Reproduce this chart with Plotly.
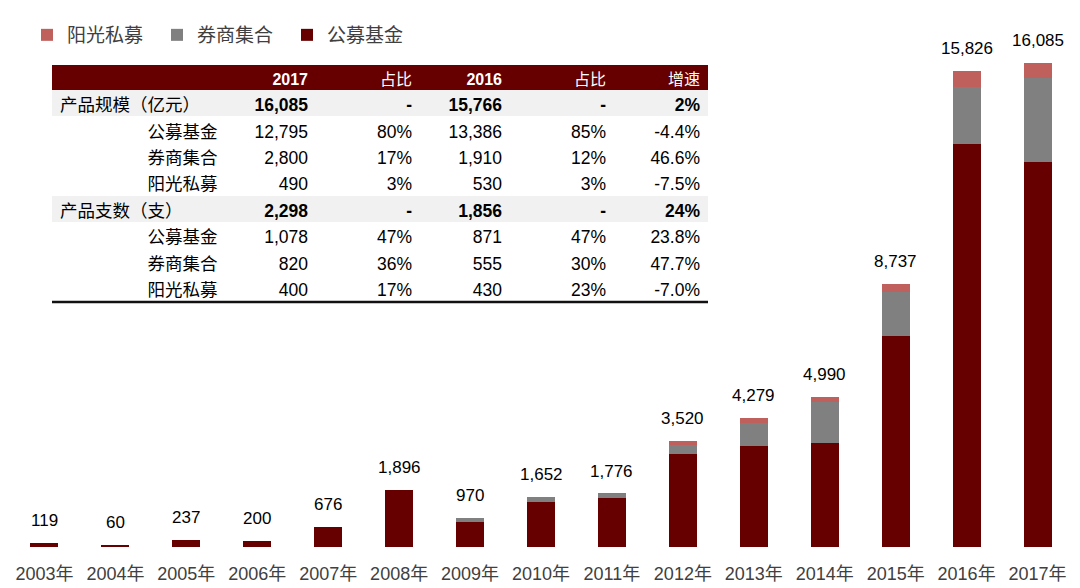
import plotly.graph_objects as go

# ---------------- data ----------------
years = ["2003年", "2004年", "2005年", "2006年", "2007年", "2008年", "2009年", "2010年",
         "2011年", "2012年", "2013年", "2014年", "2015年", "2016年", "2017年"]
gongmu = [119, 60, 237, 200, 676, 1896, 818, 1495, 1618, 3101, 3357, 3466, 7012, 13386, 12795]
quanshang = [0, 0, 0, 0, 0, 0, 152, 157, 150, 289, 775, 1363, 1462, 1910, 2800]
yangguang = [0, 0, 0, 0, 0, 0, 0, 0, 8, 130, 147, 161, 263, 530, 490]
totals = [119, 60, 237, 200, 676, 1896, 970, 1652, 1776, 3520, 4279, 4990, 8737, 15826, 16085]

tbl_header = ["", "2017", "占比", "2016", "占比", "增速"]
tbl_label = ["产品规模（亿元）", "公募基金", "券商集合", "阳光私募",
             "产品支数（支）", "公募基金", "券商集合", "阳光私募"]
tbl_is_total = [True, False, False, False, True, False, False, False]
tbl_2017 = ["16,085", "12,795", "2,800", "490", "2,298", "1,078", "820", "400"]
tbl_share17 = ["-", "80%", "17%", "3%", "-", "47%", "36%", "17%"]
tbl_2016 = ["15,766", "13,386", "1,910", "530", "1,856", "871", "555", "430"]
tbl_share16 = ["-", "85%", "12%", "3%", "-", "47%", "30%", "23%"]
tbl_growth = ["2%", "-4.4%", "46.6%", "-7.5%", "24%", "23.8%", "47.7%", "-7.0%"]

# ---------------- styles ----------------
C_DARK = "#660000"
C_GRAY = "#808080"
C_RED = "#C0605D"
FONT = "Liberation Sans, Arial, Noto Sans CJK SC, sans-serif"

OFF = 8                      # page body margin
W, H = 1080 - OFF, 588 - OFF
ML, MR, MT, MB = 1, 7, 2, 41
PW, PH = W - ML - MR, H - MT - MB
YMAX = 17846


def px_x(x):  # screen x -> paper fraction
    return (x - OFF - ML) / PW


def px_y(y):  # screen y -> paper fraction
    return (OFF + H - MB - y) / PH


fig = go.Figure()
fig.add_trace(go.Bar(name="公募基金", x=years, y=gongmu, marker=dict(color=C_DARK, line=dict(width=0))))
fig.add_trace(go.Bar(name="券商集合", x=years, y=quanshang, marker=dict(color=C_GRAY, line=dict(width=0))))
fig.add_trace(go.Bar(name="阳光私募", x=years, y=yangguang, marker=dict(color=C_RED, line=dict(width=0))))

# value labels above stacks
for i, yr in enumerate(years):
    top = gongmu[i] + quanshang[i] + yangguang[i]
    fig.add_annotation(x=yr, y=top, text=f"{totals[i]:,}", showarrow=False,
                       yanchor="bottom", yshift=11,
                       font=dict(family=FONT, size=17, color="#000000"))

# table
indent = "\u3000" * 5
col0 = [v if b else indent + v for v, b in zip(tbl_label, tbl_is_total)]
row_fill = ["#F1F1F1" if b else "#FFFFFF" for b in tbl_is_total]

fig.add_trace(go.Table(
    domain=dict(x=[px_x(52), px_x(708)], y=[px_y(330), px_y(65)]),
    columnwidth=[173, 91, 104, 90, 104, 94],
    header=dict(values=tbl_header, fill_color=C_DARK,
                align=["left", "right", "right", "right", "right", "right"],
                font=dict(family=FONT, size=16, color="#FFFFFF",
                          weight=["normal", "bold", "normal", "bold", "normal", "normal"]),
                height=25, line=dict(width=0, color=C_DARK)),
    cells=dict(values=[col0, tbl_2017, tbl_share17, tbl_2016, tbl_share16, tbl_growth],
               fill_color=[row_fill], align=["left", "right", "right", "right", "right", "right"],
               font=dict(family=FONT, size=17.5, color="#000000"), height=26.4,
               line=dict(width=0, color="#FFFFFF")),
))
# per-cell bold for the total rows (2-D grid, columns x rows)
tbl_idx = len(fig.data) - 1
cell_weights = [["normal"] * len(tbl_label)] + \
               [["bold" if b else "normal" for b in tbl_is_total] for _ in range(5)]
fig._data[tbl_idx]["cells"]["font"]["weight"] = cell_weights

fig.add_shape(type="line", xref="paper", yref="paper", x0=px_x(52), x1=px_x(708),
              y0=px_y(302), y1=px_y(302), line=dict(color="#111111", width=2.5))

fig.update_layout(
    width=W, height=H,
    margin=dict(l=ML, r=MR, t=MT, b=MB),
    barmode="stack", bargap=0.605,
    paper_bgcolor="#FFFFFF", plot_bgcolor="#FFFFFF",
    font=dict(family=FONT, size=17, color="#404040"),
    showlegend=True,
    legend=dict(orientation="h", traceorder="reversed", x=px_x(27), xanchor="left",
                y=px_y(35), yanchor="middle", entrywidth=85, entrywidthmode="pixels",
                font=dict(family=FONT, size=19, color="#404040"), bgcolor="rgba(0,0,0,0)"),
    xaxis=dict(type="category", showgrid=False, showline=False, zeroline=False,
               ticks="outside", ticklen=10, tickcolor="rgba(0,0,0,0)",
               tickfont=dict(family=FONT, size=18, color="#404040"), automargin=False),
    yaxis=dict(range=[0, YMAX], visible=False, showgrid=False, automargin=False),
)

fig.write_html("out.html")
